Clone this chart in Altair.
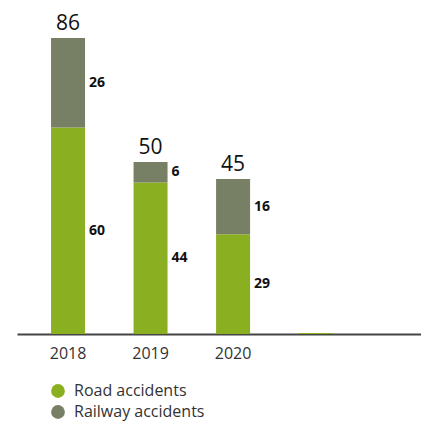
import altair as alt
import pandas as pd

years = ["2018", "2019", "2020", " "]
road = [60, 44, 29, 0.3]
rail = [26, 6, 16, 0]
totals = [86, 50, 45]
series = ["Road accidents", "Railway accidents"]
colors = ["#8AB021", "#778065"]

rows = []
for i, y in enumerate(years):
    rows.append(dict(year=y, type=series[0], value=road[i], order=0))
    rows.append(dict(year=y, type=series[1], value=rail[i], order=1))
df = pd.DataFrame(rows)

lab_rows = []
for i in range(3):
    lab_rows.append(dict(year=years[i], mid=road[i] / 2, text=str(road[i])))
    lab_rows.append(dict(year=years[i], mid=road[i] + rail[i] / 2, text=str(rail[i])))
lab = pd.DataFrame(lab_rows)
tot = pd.DataFrame(dict(year=years[:3], total=totals))

FONT = "Open Sans"
xscale = alt.Scale(domain=years, paddingInner=0.588, paddingOuter=0.742, align=0.278)
yscale = alt.Scale(domain=[0, 86], nice=False)

xaxis = alt.Axis(title=None, labelAngle=0, ticks=False, labelFontSize=16, labelColor="#333333",
                 labelFont=FONT, labelPadding=11, domainColor="#444444", domainWidth=2)

bars = alt.Chart(df).mark_bar().encode(
    x=alt.X("year:N", scale=xscale, axis=xaxis, sort=years),
    y=alt.Y("value:Q", scale=yscale, axis=None, stack="zero"),
    color=alt.Color("type:N", scale=alt.Scale(domain=series, range=colors),
                    legend=alt.Legend(title=None, orient="none", legendX=33, legendY=345,
                                      symbolType="circle", symbolSize=190, symbolStrokeWidth=0,
                                      labelFontSize=16, labelFont=FONT, labelColor="#333333",
                                      rowPadding=5, labelOffset=8)),
    order=alt.Order("order:Q"),
)

seg = alt.Chart(lab).mark_text(align="left", baseline="middle", dx=21, fontSize=14,
                               fontWeight="bold", font=FONT, color="#111111").encode(
    x=alt.X("year:N", scale=xscale, sort=years),
    y=alt.Y("mid:Q", scale=yscale),
    text="text:N",
)

totl = alt.Chart(tot).mark_text(align="center", baseline="alphabetic", dy=-8, fontSize=21,
                                font=FONT, color="#111111").encode(
    x=alt.X("year:N", scale=xscale, sort=years),
    y=alt.Y("total:Q", scale=yscale),
    text="total:Q",
)

chart = alt.layer(bars, seg, totl).properties(
    width=404, height=296,
    padding={"left": 9, "top": 30, "right": 0, "bottom": 90},
    autosize="none",
).configure_view(stroke=None)

chart.save("out.html", embed_options={"renderer": "svg", "actions": False})
